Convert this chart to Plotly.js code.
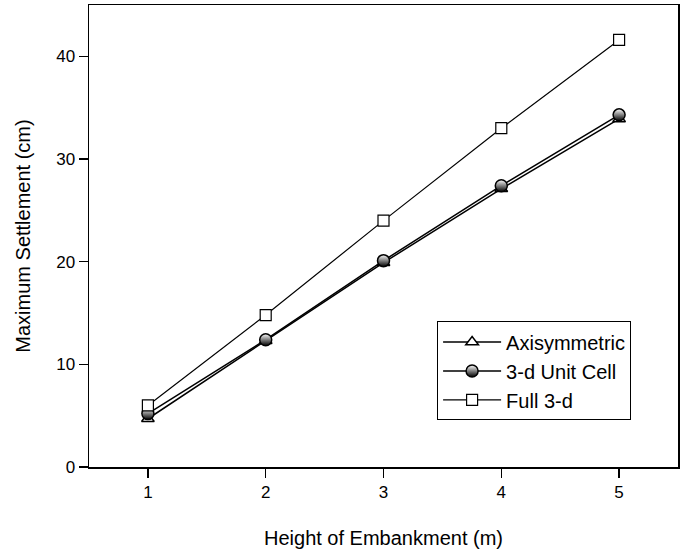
<!DOCTYPE html>
<html>
<head>
<meta charset="utf-8">
<script src="https://cdn.plot.ly/plotly-3.0.1.min.js"></script>
<style>html,body{margin:0;padding:0;background:#fff;}#chart{width:688px;height:550px;}</style>
</head>
<body>
<div id="chart"></div>
<script>
const heights = [1, 2, 3, 4, 5];
const axisymmetric = [4.7, 12.3, 19.9, 27.1, 33.9];
const unitCell3d = [5.2, 12.4, 20.1, 27.4, 34.3];
const full3d = [6.0, 14.8, 24.0, 33.0, 41.6];
const seriesNames = ["Axisymmetric", "3-d Unit Cell", "Full 3-d"];
const xTicks = [1, 2, 3, 4, 5];
const yTicks = [0, 10, 20, 30, 40];

const FONT = "Liberation Sans, Arial, sans-serif";
const lineStyle = {color: "black", width: 1.5};

const traces = [
  {
    x: heights, y: axisymmetric, name: seriesNames[0], type: "scatter", mode: "lines+markers",
    line: lineStyle,
    marker: {symbol: "triangle-up", size: 11, color: "white", line: {color: "black", width: 1.5}}
  },
  {
    x: heights, y: unitCell3d, name: seriesNames[1], type: "scatter", mode: "lines+markers",
    line: lineStyle,
    marker: {symbol: "circle", size: 12, color: "white",
             gradient: {type: "vertical", color: "black"},
             line: {color: "black", width: 1.5}}
  },
  {
    x: heights, y: full3d, name: seriesNames[2], type: "scatter", mode: "lines+markers",
    line: {color: "black", width: 1.2},
    marker: {symbol: "square", size: 11, color: "white", line: {color: "black", width: 1.2}}
  }
];

const layout = {
  width: 688, height: 550,
  margin: {l: 89, r: 10, t: 4.5, b: 83},
  paper_bgcolor: "white", plot_bgcolor: "white",
  font: {family: FONT, color: "black", size: 17},
  showlegend: true,
  legend: {
    x: 0.591, y: 0.315, xanchor: "left", yanchor: "top",
    bordercolor: "black", borderwidth: 1, bgcolor: "white",
    font: {family: FONT, size: 20, color: "black"},
    itemwidth: 58, tracegroupgap: 0,
    entrywidth: 202, entrywidthmode: "pixels",
    traceorder: "normal"
  },
  xaxis: {
    range: [0.5, 5.5], tickvals: xTicks, ticktext: xTicks.map(String),
    ticks: "outside", ticklen: 9, tickwidth: 1.5, tickcolor: "black",
    showline: true, linecolor: "black", linewidth: 1.5, mirror: true,
    showgrid: false, zeroline: false, automargin: false,
    tickfont: {family: FONT, size: 17},
    title: {text: "Height of Embankment (m)", font: {family: FONT, size: 20}, standoff: 30}
  },
  yaxis: {
    range: [0, 45], tickvals: yTicks, ticktext: yTicks.map(String),
    ticks: "outside", ticklen: 9, tickwidth: 1.5, tickcolor: "black",
    showline: true, linecolor: "black", linewidth: 1.5, mirror: true,
    showgrid: false, zeroline: false, automargin: false,
    tickfont: {family: FONT, size: 17},
    title: {text: "Maximum Settlement (cm)", font: {family: FONT, size: 20}, standoff: 20}
  }
};

Plotly.newPlot("chart", traces, layout, {displayModeBar: false, staticPlot: true});
</script>
</body>
</html>
